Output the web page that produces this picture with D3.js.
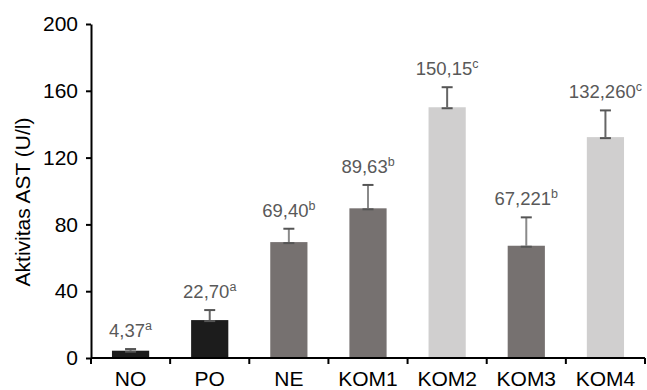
<!DOCTYPE html>
<html>
<head>
  <meta charset="utf-8">
  <script src="https://d3js.org/d3.v7.min.js"></script>
  <style>
    body { margin: 0; background: #fff; }
    text { font-family: "Liberation Sans", Arial, sans-serif; }
    .axis path, .axis line { stroke: #000; stroke-width: 2; }
    .axis text { font-size: 21px; fill: #000; }
  </style>
</head>
<body>
  <svg width="647" height="390"></svg>

  <script>
    // data
    var groups = ["NO", "PO", "NE", "KOM1", "KOM2", "KOM3", "KOM4"];
    var values = [4.37, 22.70, 69.40, 89.63, 150.15, 67.221, 132.26];
    var errors = [1, 6, 8, 14, 12, 17, 16];
    var labels = ["4,37", "22,70", "69,40", "89,63", "150,15", "67,221", "132,260"];
    var letters = ["a", "a", "b", "b", "c", "b", "c"];
    var shades = ["dark", "dark", "mid", "mid", "light", "mid", "light"];
    var yTicks = [0, 40, 80, 120, 160, 200];

    var fills = { dark: "#1c1c1c", mid: "#767170", light: "#d0cfcf" };

    var plotLeft = 91, plotRight = 645, plotTop = 24, plotBottom = 358;

    var svg = d3.select("svg");

    var x = d3.scaleBand()
      .domain(groups)
      .range([plotLeft, plotRight])
      .paddingInner(0.53)
      .paddingOuter(0.265);

    var y = d3.scaleLinear()
      .domain([0, 200])
      .range([plotBottom, plotTop]);

    var data = groups.map(function(g, i) {
      return { name: g, value: values[i], err: errors[i], label: labels[i], letter: letters[i], shade: shades[i] };
    });

    // bars
    svg.selectAll(".bar")
      .data(data)
      .enter()
      .append("rect")
      .attr("class", "bar")
      .attr("x", function(d) { return x(d.name); })
      .attr("y", function(d) { return y(d.value); })
      .attr("width", x.bandwidth())
      .attr("height", function(d) { return y(0) - y(d.value); })
      .attr("fill", function(d) { return fills[d.shade]; });

    // error bars
    var capW = 11;
    var eb = svg.selectAll(".err")
      .data(data)
      .enter()
      .append("g")
      .attr("class", "err")
      .attr("stroke", function(d) { return d.shade == "mid" ? "#8a8a8a" : "#666"; })
      .attr("stroke-width", 2);

    eb.append("line")
      .attr("x1", function(d) { return x(d.name) + x.bandwidth() / 2; })
      .attr("x2", function(d) { return x(d.name) + x.bandwidth() / 2; })
      .attr("y1", function(d) { return y(d.value); })
      .attr("y2", function(d) { return y(d.value + d.err); });

    eb.append("line")
      .attr("stroke", "#555")
      .attr("x1", function(d) { return x(d.name) + x.bandwidth() / 2 - capW / 2; })
      .attr("x2", function(d) { return x(d.name) + x.bandwidth() / 2 + capW / 2; })
      .attr("y1", function(d) { return y(d.value + d.err); })
      .attr("y2", function(d) { return y(d.value + d.err); });

    eb.append("line")
      .attr("stroke", "#555")
      .attr("x1", function(d) { return x(d.name) + x.bandwidth() / 2 - capW / 2; })
      .attr("x2", function(d) { return x(d.name) + x.bandwidth() / 2 + capW / 2; })
      .attr("y1", function(d) { return y(d.value) + 1; })
      .attr("y2", function(d) { return y(d.value) + 1; });

    // value labels
    var lab = svg.selectAll(".lab")
      .data(data)
      .enter()
      .append("text")
      .attr("class", "lab")
      .attr("x", function(d) { return x(d.name) + x.bandwidth() / 2; })
      .attr("y", function(d) { return y(d.value + d.err) - 12; })
      .attr("text-anchor", "middle")
      .attr("fill", "#595959")
      .style("font-size", "18.5px");

    lab.append("tspan").text(function(d) { return d.label; });
    lab.append("tspan")
      .attr("dy", -7)
      .style("font-size", "12.5px")
      .text(function(d) { return d.letter; });

    // axes
    svg.append("g")
      .attr("class", "axis")
      .attr("transform", "translate(" + plotLeft + ",0)")
      .call(d3.axisLeft(y).tickValues(yTicks).tickSize(5).tickPadding(8).tickSizeOuter(0));

    var xAxis = svg.append("g")
      .attr("class", "axis")
      .attr("transform", "translate(0," + plotBottom + ")")
      .call(d3.axisBottom(x).tickSize(0).tickPadding(13));

    xAxis.select(".domain").attr("d", "M" + plotLeft + ",0H" + plotRight);

    var step = x.step();
    var bounds = groups.map(function(g) { return x(g) - (step - x.bandwidth()) / 2; });
    bounds.push(plotRight);
    xAxis.selectAll(".bound")
      .data(bounds)
      .enter()
      .append("line")
      .attr("x1", function(d) { return d; })
      .attr("x2", function(d) { return d; })
      .attr("y1", 0)
      .attr("y2", 6);

    svg.append("text")
      .attr("transform", "translate(30,202) rotate(-90)")
      .attr("text-anchor", "middle")
      .style("font-size", "21px")
      .text("Aktivitas AST (U/l)");
  </script>
</body>
</html>
